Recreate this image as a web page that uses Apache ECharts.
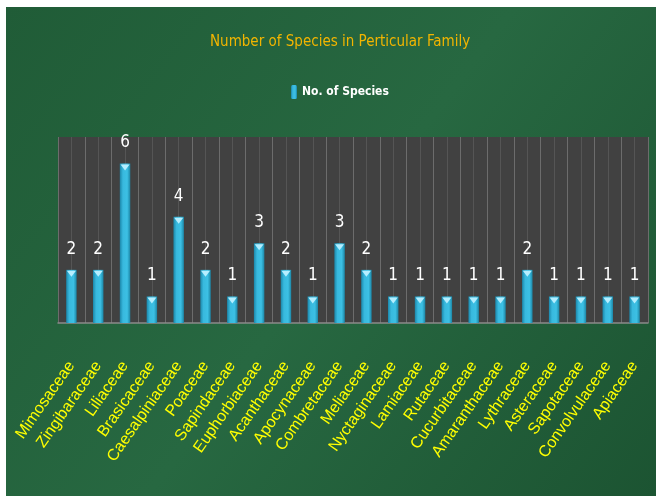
<!DOCTYPE html>
<html><head><meta charset="utf-8">
<script src="https://cdn.jsdelivr.net/npm/echarts@6/dist/echarts.min.js"></script>
<style>html,body{margin:0;padding:0;background:#fff;}#c{width:656px;height:496px;}</style>
</head><body><div id="c"></div>
<script>
const families = ['Mimosaceae','Zingibaraceae','Liliaceae','Brasicaceae','Caesalpiniaceae','Poaceae','Sapindaceae','Euphorbiaceae','Acanthaceae','Apocynaceae','Combretaceae','Meliaceae','Nyctaginaceae','Lamiaceae','Rutaceae','Cucurbitaceae','Amaranthaceae','Lythraceae','Asteraceae','Sapotaceae','Convolvulaceae','Apiaceae'];
const speciesCounts = [2,2,6,1,4,2,1,3,2,1,3,2,1,1,1,1,1,2,1,1,1,1];
const seriesName = 'No. of Species';
const chartTitle = 'Number of Species in Perticular Family';
const yMin = 0, yMax = 7;

const narrow = "'DejaVu Sans Condensed',sans-serif";
const chart = echarts.init(document.getElementById('c'));
const barGrad = new echarts.graphic.LinearGradient(0,0,1,0,[
  {offset:0,color:'#1b87aa'},{offset:0.3,color:'#38b9de'},{offset:0.7,color:'#3cc0e4'},{offset:1,color:'#1c86a6'}]);
chart.setOption({
  backgroundColor:'#ffffff',
  graphic:[{type:'rect',left:6,top:7,z:-10,shape:{width:650,height:489},
    style:{fill:new echarts.graphic.LinearGradient(0,0,1,1,[
      {offset:0,color:'#205c37'},{offset:0.5,color:'#276841'},{offset:1,color:'#1c5432'}])}}],
  title:{text:chartTitle,left:205,top:30,
    textStyle:{color:'#f2b500',fontSize:15,fontWeight:'normal',fontFamily:narrow}},
  legend:{data:[seriesName],top:80,left:286,itemWidth:6,itemHeight:14,itemGap:5,
    textStyle:{color:'#ffffff',fontSize:12,fontWeight:'bold',fontFamily:narrow}},
  grid:{left:58,right:8,top:137,bottom:173,show:true,backgroundColor:'#414141',borderWidth:0},
  xAxis:[{type:'category',data:families,
    axisLine:{lineStyle:{color:'#8a8a8a',width:1.5}},axisTick:{show:false},
    splitLine:{show:false},
    axisLabel:{rotate:55,margin:40,interval:0,color:'#ffff00',fontSize:16,fontFamily:"'Liberation Sans',sans-serif"}},
   {type:'value',position:'top',min:0,max:families.length*2,interval:1,
    axisLine:{show:false},axisTick:{show:false},axisLabel:{show:false},
    splitLine:{show:true,lineStyle:{color:['#6c6c6c','#555555'],width:1}}}],
  yAxis:{type:'value',min:yMin,max:yMax,show:false,splitLine:{show:false}},
  series:[
    {name:seriesName,type:'bar',data:speciesCounts,barWidth:'39%',
     itemStyle:{color:barGrad},
     label:{show:true,position:'top',distance:12,color:'#ffffff',fontSize:17,fontFamily:narrow}},
    {name:'cap',type:'pictorialBar',data:speciesCounts,symbol:'triangle',symbolRotate:180,
     symbolSize:[9,6],symbolPosition:'end',symbolOffset:[0,1],barWidth:'39%',barGap:'-100%',
     itemStyle:{color:'#b5eeff'},z:3,silent:true}
  ]
});
</script></body></html>
